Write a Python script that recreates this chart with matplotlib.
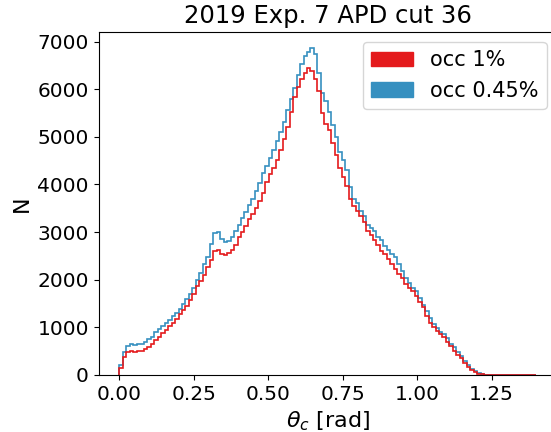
import numpy as np
import matplotlib.pyplot as plt
from matplotlib.patches import Patch

# binning of the Cherenkov angle histogram
theta_min = 0.0
theta_max = 1.4
n_bins = 120

# counts per bin, occupancy 1%
counts_occ1 = [
    150, 380, 490, 500, 490, 510, 500, 540, 590, 650,
    740, 800, 880, 950, 1020, 1090, 1170, 1270, 1370, 1450,
    1570, 1700, 1860, 1980, 2090, 2260, 2420, 2610, 2630, 2540,
    2520, 2560, 2620, 2720, 2890, 3010, 3130, 3280, 3380, 3500,
    3650, 3830, 4050, 4220, 4350, 4520, 4720, 4960, 5200, 5520,
    5830, 6050, 6210, 6340, 6450, 6390, 6220, 5960, 5500, 5260,
    5150, 4880, 4620, 4350, 4150, 3960, 3700, 3540, 3440, 3330,
    3220, 3020, 2930, 2830, 2720, 2610, 2540, 2440, 2320, 2220,
    2120, 2030, 1920, 1830, 1760, 1660, 1530, 1420, 1230, 1090,
    1000, 930, 850, 800, 690, 600, 500, 420, 360, 260,
    170, 110, 60, 30, 10, 0, 0, 0, 0, 0,
    0, 0, 0, 0, 0, 0, 0, 0, 0, 0,
]

# counts per bin, occupancy 0.45%
counts_occ045 = [
    200, 480, 600, 640, 625, 660, 640, 700, 760, 800,
    900, 960, 1030, 1090, 1150, 1230, 1300, 1390, 1500, 1590,
    1700, 1830, 2000, 2150, 2330, 2480, 2750, 2980, 3010, 2850,
    2790, 2810, 2900, 3030, 3150, 3290, 3430, 3560, 3690, 3860,
    4030, 4230, 4390, 4560, 4730, 4920, 5100, 5320, 5560, 5800,
    6020, 6300, 6520, 6700, 6780, 6860, 6740, 6330, 5930, 5760,
    5530, 5250, 5000, 4680, 4520, 4310, 3950, 3690, 3600, 3450,
    3330, 3140, 3080, 3020, 2900, 2830, 2700, 2620, 2530, 2470,
    2330, 2180, 2040, 1930, 1830, 1760, 1620, 1460, 1350, 1200,
    1080, 990, 910, 870, 770, 660, 580, 480, 390, 290,
    200, 130, 80, 40, 15, 5, 0, 0, 0, 0,
    0, 0, 0, 0, 0, 0, 0, 0, 0, 0,
]

labels = ['occ 1%', 'occ 0.45%']
colors = ['#e41a1c', '#3690c0']

edges = np.linspace(theta_min, theta_max, n_bins + 1)

fig = plt.figure(figsize=(5.51, 4.32), dpi=100)
ax = fig.add_axes([0.179, 0.132, 0.832, 0.795])

ax.stairs(counts_occ045, edges, color=colors[1], lw=1.2)
ax.stairs(counts_occ1, edges, color=colors[0], lw=1.2)

ax.set_xlim(-0.07, 1.47)
ax.set_ylim(0, 7210)
ax.set_xticks([0.0, 0.25, 0.5, 0.75, 1.0, 1.25])
ax.set_xticklabels(['0.00', '0.25', '0.50', '0.75', '1.00', '1.25'])
ax.tick_params(labelsize=14.5)
ax.set_xlabel(r'$\theta_c$ [rad]', fontsize=16)
ax.set_ylabel('N', fontsize=16)
ax.set_title('2019 Exp. 7 APD cut 36', fontsize=17.5)

handles = [Patch(color=c, label=l) for c, l in zip(colors, labels)]
ax.legend(handles=handles, loc='upper right', fontsize=15)

fig.savefig('out.png', dpi=100)
